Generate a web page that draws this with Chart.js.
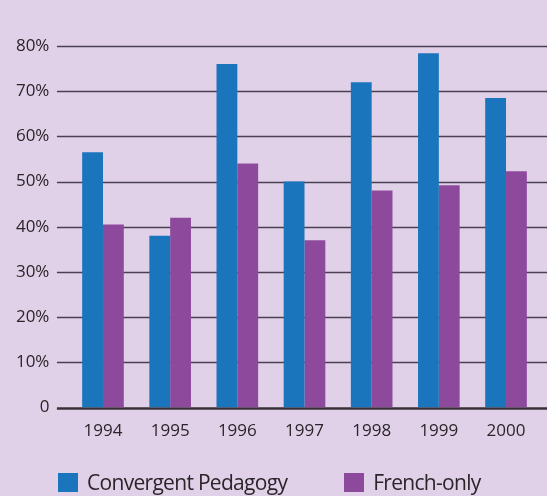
<!DOCTYPE html>
<html>
<head>
<meta charset="utf-8">
<script src="https://cdn.jsdelivr.net/npm/chart.js@4/dist/chart.umd.min.js"></script>
<style>
  html, body { margin: 0; padding: 0; background: #e0d1e9; }
  #wrap { position: relative; width: 547px; height: 496px; }
  #legend { position: absolute; left: 58px; top: 472px; display: flex; font-family: "Open Sans"; font-size: 21px; line-height: 21px; letter-spacing: -0.7px; color: #2b2428; }
  #legend .item { display: flex; align-items: center; }
  #legend .box { width: 20px; height: 19px; margin-right: 9px; }
</style>
</head>
<body>
<div id="wrap">
  <canvas id="chart" width="547" height="496"></canvas>
  <div id="legend"></div>
</div>
<script>
const years = ["1994", "1995", "1996", "1997", "1998", "1999", "2000"];
const convergent = [56.5, 38, 76, 50, 72, 78.4, 68.5];
const frenchOnly = [40.5, 42, 54, 37, 48, 49.2, 52.3];
const yTickLabels = ["0", "10%", "20%", "30%", "40%", "50%", "60%", "70%", "80%"];

const seriesNames = ["Convergent Pedagogy", "French-only"];
const seriesColors = ["#1a75bc", "#8d4a9c"];

// horizontal rules run past the plot area on both sides
const ruleLines = {
    id: "ruleLines",
    beforeDatasetsDraw(chart) {
        let ctx = chart.ctx;
        let y = chart.scales.y;
        ctx.save();
        y.ticks.forEach(t => {
            let py = Math.round(y.getPixelForValue(t.value));
            ctx.beginPath();
            if (t.value === 0) {
                ctx.lineWidth = 2.5;
                ctx.strokeStyle = "#3a3039";
            } else {
                ctx.lineWidth = 1.6;
                ctx.strokeStyle = "#4a4050";
            }
            ctx.moveTo(chart.chartArea.left - 12.5, py + 0.5);
            ctx.lineTo(chart.width, py + 0.5);
            ctx.stroke();
        });
        ctx.restore();
    }
};

const font = { family: "Open Sans", size: 17 };

new Chart(document.getElementById("chart"), {
    type: "bar",
    data: {
        labels: years,
        datasets: [
            { label: seriesNames[0], data: convergent, backgroundColor: seriesColors[0] },
            { label: seriesNames[1], data: frenchOnly, backgroundColor: seriesColors[1] }
        ]
    },
    options: {
        responsive: false,
        animation: false,
        layout: { padding: { top: 46, right: 7.4, bottom: 58.5, left: 0 } },
        datasets: { bar: { categoryPercentage: 0.62, barPercentage: 1 } },
        plugins: {
            legend: { display: false },
            tooltip: { enabled: false }
        },
        scales: {
            x: {
                grid: { display: false, drawTicks: false },
                border: { display: false },
                ticks: { color: "#2b2428", font: font, padding: 13 },
                afterFit(scale) { scale.height = 30; }
            },
            y: {
                min: 0,
                max: 80,
                grid: { display: false, drawTicks: false },
                border: { display: false },
                ticks: {
                    stepSize: 10,
                    color: "#2b2428",
                    font: font,
                    padding: 20,
                    callback: (v, i) => yTickLabels[i]
                },
                afterFit(scale) { scale.width = 69.4; }
            }
        }
    },
    plugins: [ruleLines]
});

let legend = document.getElementById("legend");
seriesNames.forEach((name, i) => {
    let item = document.createElement("div");
    item.className = "item";
    if (i === 0) item.style.marginRight = "57px";
    let box = document.createElement("span");
    box.className = "box";
    box.style.background = seriesColors[i];
    let txt = document.createElement("span");
    txt.textContent = name;
    item.appendChild(box);
    item.appendChild(txt);
    legend.appendChild(item);
});
</script>
</body>
</html>
